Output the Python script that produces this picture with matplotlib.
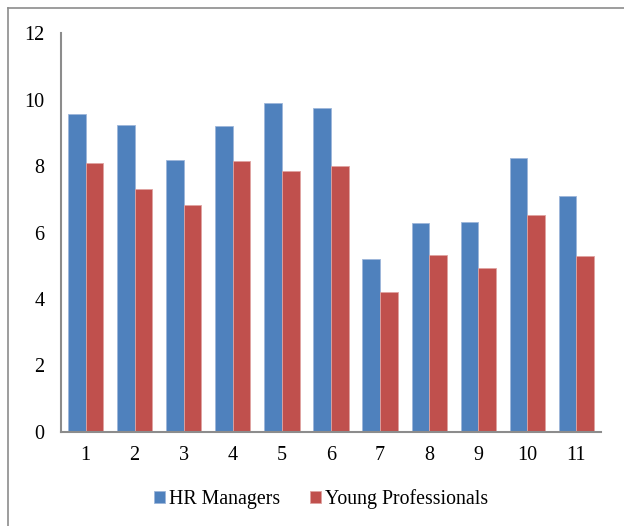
import matplotlib.pyplot as plt
import numpy as np
from matplotlib.lines import Line2D

plt.rcParams['font.family'] = ['Liberation Serif', 'DejaVu Serif']

categories = ['1', '2', '3', '4', '5', '6', '7', '8', '9', '10', '11']
hr_managers = [9.57, 9.23, 8.19, 9.2, 9.89, 9.74, 5.2, 6.29, 6.31, 8.23, 7.09]
young_prof = [8.09, 7.31, 6.82, 8.14, 7.85, 8.0, 4.21, 5.31, 4.92, 6.54, 5.30]

blue = '#4F81BD'
red = '#C0504D'

fig = plt.figure(figsize=(6.24, 5.26), dpi=100)
ax = fig.add_axes([61/624, 1-431.7/526, 540/624, (431.7-33.3)/526])

x = np.arange(len(categories))
w = 0.36
ax.bar(x - w/2, hr_managers, w, color=blue, edgecolor='#9DB6DA', linewidth=0.6, label='HR Managers')
ax.bar(x + w/2, young_prof, w, color=red, edgecolor='#E0A3A1', linewidth=0.6, label='Young Professionals')

ax.set_xlim(-0.5, len(categories) - 0.5)
ax.set_ylim(0, 12)
ax.set_yticks(range(0, 13, 2))
ax.set_xticks(x)
ax.set_xticklabels(categories)
ax.tick_params(axis='both', length=0, labelsize=14.5)
ax.tick_params(axis='y', pad=12)
ax.tick_params(axis='x', pad=10)

for s in ['top', 'right']:
    ax.spines[s].set_visible(False)
for s in ['left', 'bottom']:
    ax.spines[s].set_color('#8C8C8C')
    ax.spines[s].set_linewidth(1.5)

# outer chart border (only left and top visible)
fig.add_artist(Line2D([8/624, 8/624], [0, 1-8/526], color='#8C8C8C', linewidth=1.2, transform=fig.transFigure))
fig.add_artist(Line2D([8/624, 1], [1-8/526, 1-8/526], color='#8C8C8C', linewidth=1.2, transform=fig.transFigure))

fig.legend(loc='center', bbox_to_anchor=(0.515, 1-499/526), ncol=2, frameon=False,
           fontsize=14.3, handlelength=0.55, handleheight=0.55, handletextpad=0.2,
           columnspacing=1.5)

fig.savefig('out.png', dpi=100)
